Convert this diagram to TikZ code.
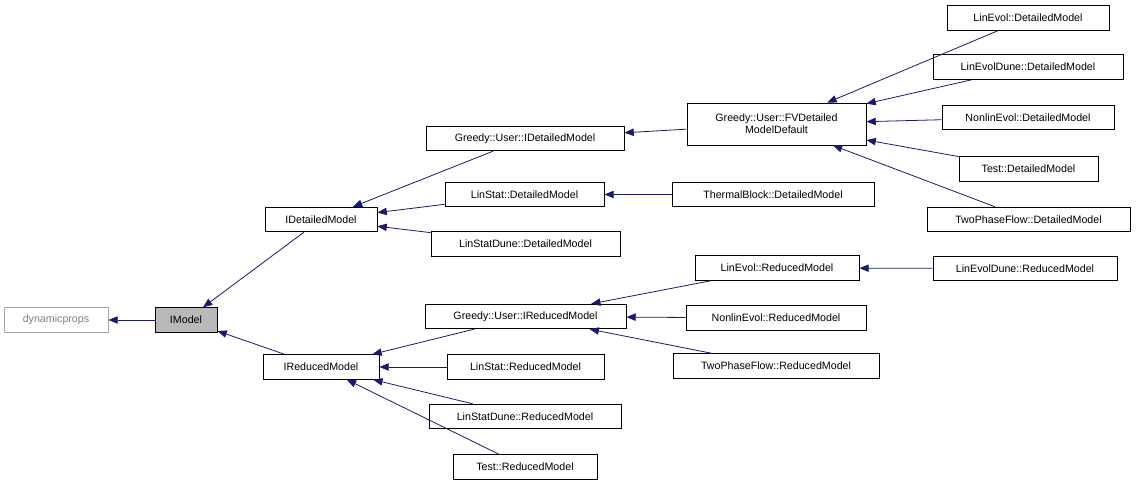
\documentclass[tikz,border=0pt]{standalone}
\usepackage{fontspec}
\setmainfont{Liberation Sans}
\usetikzlibrary{arrows.meta}
\definecolor{navy}{HTML}{191970}
\begin{document}
\begin{tikzpicture}[x=0.75pt,y=-0.75pt,
  box/.style={draw=black,line width=0.6pt,inner sep=0pt,font=\fontsize{8}{9}\selectfont,align=center,minimum height=18.4pt},
  inh/.style={draw=navy,line width=0.6pt,{Triangle[length=7pt,width=5.5pt,fill=navy]}-}]
\useasboundingbox (0,0) rectangle (1136,488);
\newcommand{\bx}[6][]{\node[box,#1,minimum width=#4*0.75pt] (#2) at ({(#3+#4/2)},#5) {#6};}
\bx[draw=gray!70,text=gray]{dp}{4}{104}{320}{dynamicprops}
\bx[fill=gray!55]{im}{155}{62}{320}{IModel}
\bx{idm}{265}{112}{219.5}{IDetailedModel}
\bx{irm}{263}{116}{367}{IReducedModel}
\bx{guid}{426}{198}{138.5}{Greedy::User::IDetailedModel}
\bx{lsd}{445}{159}{194.5}{LinStat::DetailedModel}
\bx{lsdd}{431}{189}{244}{LinStatDune::DetailedModel}
\bx[minimum height=31.5pt]{fv}{687}{179}{124}{Greedy::User::FVDetailed\\ModelDefault}
\bx{tb}{672}{202}{194.5}{ThermalBlock::DetailedModel}
\bx{led}{947}{162}{18}{LinEvol::DetailedModel}
\bx{ledd}{933}{190}{67}{LinEvolDune::DetailedModel}
\bx{nled}{942}{172}{117.5}{NonlinEvol::DetailedModel}
\bx{td}{959}{139}{169}{Test::DetailedModel}
\bx{tpd}{927}{203}{219.5}{TwoPhaseFlow::DetailedModel}
\bx{guir}{425}{201}{316.5}{Greedy::User::IReducedModel}
\bx{lsr}{447}{157}{367}{LinStat::ReducedModel}
\bx{lsdr}{429}{192}{416.5}{LinStatDune::ReducedModel}
\bx{tr}{453}{144}{467}{Test::ReducedModel}
\bx{ler}{695}{164}{268}{LinEvol::ReducedModel}
\bx{nler}{686}{180}{318}{NonlinEvol::ReducedModel}
\bx{tpr}{673}{206}{366}{TwoPhaseFlow::ReducedModel}
\bx{ledr}{933}{184}{268.5}{LinEvolDune::ReducedModel}
\foreach \p/\c in {dp/im, im/idm, im/irm, idm/guid, idm/lsd, idm/lsdd, guid/fv, lsd/tb,
  fv/led, fv/ledd, fv/nled, fv/td, fv/tpd, irm/guir, irm/lsr, irm/lsdr, irm/tr,
  guir/ler, guir/nler, guir/tpr, ler/ledr}
  \draw[inh] (\p) -- (\c);
\end{tikzpicture}
\end{document}
